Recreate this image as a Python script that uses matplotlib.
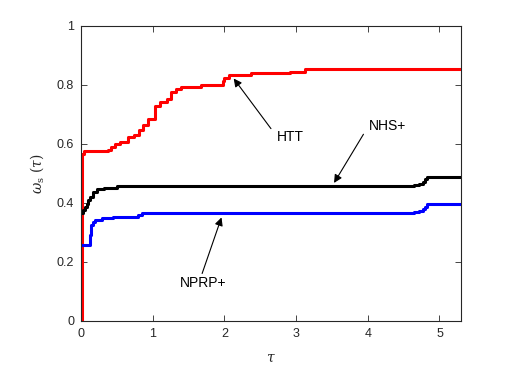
import matplotlib
matplotlib.use("Agg")
import matplotlib.pyplot as plt

plt.rcParams['font.family'] = ['Liberation Sans', 'DejaVu Sans']
plt.rcParams['mathtext.fontset'] = 'dejavuserif'

# HTT (red)
htt_tau = [0.01, 0.014, 0.02, 0.04, 0.38, 0.42, 0.48, 0.55, 0.65, 0.74, 0.81, 0.86, 0.93,
           1.03, 1.1, 1.2, 1.25, 1.32, 1.4, 1.68, 1.98, 2.0, 2.06, 2.37, 2.92, 3.13, 5.3]
htt_val = [0.0, 0.55, 0.565, 0.575, 0.58, 0.59, 0.60, 0.607, 0.622, 0.63, 0.647, 0.664, 0.686,
           0.728, 0.743, 0.754, 0.776, 0.785, 0.793, 0.80, 0.815, 0.825, 0.835, 0.84, 0.845, 0.853, 0.853]

# NHS+ (black)
nhs_tau = [0.0, 0.03, 0.05, 0.08, 0.1, 0.13, 0.17, 0.22, 0.32, 0.5, 4.65, 4.72, 4.77, 4.8, 4.83, 5.3]
nhs_val = [0.365, 0.375, 0.385, 0.395, 0.41, 0.421, 0.438, 0.446, 0.451, 0.458, 0.462, 0.466,
           0.472, 0.48, 0.489, 0.489]

# NPRP+ (blue)
nprp_tau = [0.0, 0.12, 0.14, 0.17, 0.2, 0.29, 0.45, 0.79, 0.85, 4.65, 4.72, 4.77, 4.8, 4.83, 5.3]
nprp_val = [0.257, 0.29, 0.325, 0.335, 0.342, 0.35, 0.352, 0.358, 0.365, 0.368, 0.372, 0.38,
            0.388, 0.395, 0.395]

x_ticks = [0, 1, 2, 3, 4, 5]
y_ticks = [0, 0.2, 0.4, 0.6, 0.8, 1]
y_ticklabels = ['0', '0.2', '0.4', '0.6', '0.8', '1']

fig = plt.figure(figsize=(5.06, 3.66), dpi=100)
ax = fig.add_axes([0.16, 0.123, 0.751, 0.806])

ax.plot(htt_tau, htt_val, color='#ff0000', lw=2.2, drawstyle='steps-post')
ax.plot(nhs_tau, nhs_val, color='black', lw=2.2, drawstyle='steps-post')
ax.plot(nprp_tau, nprp_val, color='#0000ff', lw=2.2, drawstyle='steps-post')

ax.set_xlim(0, 5.3)
ax.set_ylim(0, 1)
ax.set_xticks(x_ticks)
ax.set_yticks(y_ticks)
ax.set_yticklabels(y_ticklabels)
tc = '#262626'
ax.tick_params(direction='in', top=True, right=True, length=4, width=0.6,
               labelsize=9, colors=tc, pad=5)
for s in ax.spines.values():
    s.set_color(tc)
    s.set_linewidth(0.8)

ax.set_xlabel(r'$\tau$', fontsize=10, color=tc, labelpad=8)
ax.set_ylabel(r'$\omega_{\rm s}\ (\tau)$', fontsize=10, color=tc, labelpad=8)

arrow = dict(arrowstyle='-|>', color='black', lw=0.8, mutation_scale=12, shrinkA=0, shrinkB=0)
ax.annotate('', xy=(2.13, 0.822), xytext=(2.65, 0.652), arrowprops=arrow)
ax.text(2.92, 0.623, 'HTT', fontsize=10, ha='center', va='center')
ax.annotate('', xy=(3.53, 0.468), xytext=(3.94, 0.633), arrowprops=arrow)
ax.text(4.27, 0.66, 'NHS+', fontsize=10, ha='center', va='center')
ax.annotate('', xy=(1.96, 0.351), xytext=(1.69, 0.161), arrowprops=arrow)
ax.text(1.71, 0.128, 'NPRP+', fontsize=10, ha='center', va='center')

fig.savefig('out.png', dpi=100)
